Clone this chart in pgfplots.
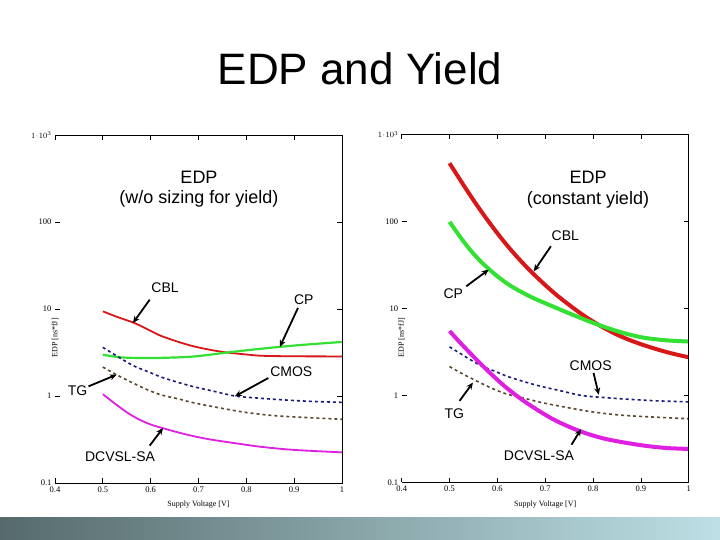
\documentclass[border=0pt]{standalone}
\usepackage{fontspec}
\setmainfont{Liberation Sans}
\newfontfamily\serif{Liberation Serif}
\usepackage{pgfplots}
\usepackage{pgfplotstable}
\pgfplotsset{compat=1.18}
\usetikzlibrary{arrows.meta}

\definecolor{cblred}{HTML}{D81818}
\definecolor{cpgreen}{HTML}{33E033}
\definecolor{cmosblue}{HTML}{1A1A7A}
\definecolor{tgbrown}{HTML}{5A4830}
\definecolor{dcvsl}{HTML}{E020E0}
\definecolor{barL}{HTML}{566A6C}
\definecolor{barR}{HTML}{BCE0E5}

\tikzset{
  thinline/.style={line width=1.8pt},
  thickline/.style={line width=4pt},
  dashline/.style={line width=1.6pt, dash pattern=on 3pt off 3pt},
  lab/.style={font=\fontsize{14}{16}\selectfont},
  arr/.style={-{Stealth[length=7pt,width=6pt]}, line width=1.8pt, black},
}

\pgfplotstableread{
x y
0.500 3.62
0.520 3.10
0.540 2.65
0.566 2.20
0.600 1.85
0.622 1.65
0.660 1.42
0.692 1.27
0.730 1.14
0.776 1.00
0.820 0.95
0.867 0.91
0.930 0.87
1.000 0.845
}\cmos

\pgfplotstableread{
x y
0.500 2.15
0.525 1.80
0.552 1.51
0.590 1.20
0.622 1.03
0.660 0.92
0.692 0.83
0.750 0.72
0.797 0.65
0.850 0.60
0.902 0.574
1.000 0.54
}\tg

\begin{document}
\begin{tikzpicture}
\useasboundingbox (0pt,0pt) rectangle (720pt,540pt);
\fill[white] (0pt,0pt) rectangle (720pt,540pt);
\shade[left color=barL, right color=barR] (0pt,0pt) rectangle (720pt,22pt);

\node[anchor=base, font=\fontsize{44}{48}\selectfont] at (360pt,455pt) {EDP and Yield};

\node[anchor=base, font=\fontsize{18}{20}\selectfont] at (199pt,356.7pt) {EDP};
\node[anchor=base, font=\fontsize{18}{20}\selectfont] at (199pt,336.7pt) {(w/o sizing for yield)};
\node[anchor=base, font=\fontsize{18}{20}\selectfont] at (588pt,356.7pt) {EDP};
\node[anchor=base, font=\fontsize{18}{20}\selectfont] at (588pt,335pt) {(constant yield)};

% left panel: without sizing for yield
\begin{axis}[
  at={(55pt,57pt)}, anchor=south west,
  scale only axis, width=287pt, height=348pt,
  xmin=0.4, xmax=1, ymode=log, ymin=0.1, ymax=1000,
  xtick={0.4,0.5,0.6,0.7,0.8,0.9,1},
  xticklabels={0.4,0.5,0.6,0.7,0.8,0.9,1},
  ytick={0.1,1,10,100,1000},
  yticklabels={0.1,1,10,100,$1\!\cdot\!10^{3}$},
  yminorticks=false,
  tick align=inside,
  major tick length=5pt,
  tick style={black, line width=0.7pt},
  axis line style={draw=none},
  ticklabel style={font=\serif\fontsize{8.5}{9}\selectfont},
  xlabel={Supply Voltage [V]}, ylabel={EDP [ns*fJ]},
  label style={font=\serif\fontsize{8}{9}\selectfont},
  xlabel style={at={(rel axis cs:0.5,0)}, yshift=-22pt, anchor=center},
  ylabel style={at={(rel axis cs:0,0.5)}, xshift=-29pt, anchor=center},
  clip=false,
]
\addplot[cblred, thinline, smooth, no marks] coordinates {
(0.500,9.4) (0.530,8.1) (0.566,6.9) (0.600,5.6) (0.622,4.9) (0.660,4.15)
(0.692,3.7) (0.730,3.35) (0.762,3.15) (0.800,3.0) (0.832,2.9) (0.900,2.86) (1.000,2.85)};
\addplot[cpgreen, line width=2.2pt, smooth, no marks] coordinates {
(0.500,2.98) (0.538,2.78) (0.587,2.73) (0.640,2.76) (0.692,2.85) (0.762,3.17)
(0.800,3.35) (0.867,3.66) (0.930,3.92) (1.000,4.18)};
\addplot[cmosblue, dashline, smooth, no marks] table {\cmos};
\addplot[tgbrown, dashline, smooth, no marks] table {\tg};
\addplot[dcvsl, thinline, smooth, no marks] coordinates {
(0.500,1.05) (0.525,0.82) (0.552,0.64) (0.575,0.54) (0.601,0.468) (0.630,0.42)
(0.657,0.382) (0.690,0.345) (0.727,0.315) (0.780,0.285) (0.832,0.26) (0.900,0.24) (1.000,0.225)};
\draw[line width=0.8pt] (rel axis cs:0,1) -- (rel axis cs:1,1) -- (rel axis cs:1,0) -- (rel axis cs:0,0);
\node[lab] at (axis cs:0.63,17.4) {CBL};
\draw[arr] (axis cs:0.598,12.8) -- (axis cs:0.563,6.9);
\node[lab] at (axis cs:0.92,12.8) {CP};
\draw[arr] (axis cs:0.908,10.3) -- (axis cs:0.870,3.66);
\node[lab] at (axis cs:0.894,1.90) {CMOS};
\draw[arr] (axis cs:0.846,1.61) -- (axis cs:0.776,0.99);
\node[lab] at (axis cs:0.447,1.16) {TG};
\draw[arr] (axis cs:0.470,1.29) -- (axis cs:0.529,1.76);
\node[lab] at (axis cs:0.536,0.203) {DCVSL-SA};
\draw[arr] (axis cs:0.598,0.269) -- (axis cs:0.626,0.429);
\end{axis}

% right panel: constant yield
\begin{axis}[
  at={(401.7pt,57.5pt)}, anchor=south west,
  scale only axis, width=287pt, height=348pt,
  xmin=0.4, xmax=1, ymode=log, ymin=0.1, ymax=1000,
  xtick={0.4,0.5,0.6,0.7,0.8,0.9,1},
  xticklabels={0.4,0.5,0.6,0.7,0.8,0.9,1},
  ytick={0.1,1,10,100,1000},
  yticklabels={0.1,1,10,100,$1\!\cdot\!10^{3}$},
  yminorticks=false,
  tick align=inside,
  major tick length=5pt,
  tick style={black, line width=0.7pt},
  axis line style={draw=none},
  ticklabel style={font=\serif\fontsize{8.5}{9}\selectfont},
  xlabel={Supply Voltage [V]}, ylabel={EDP [ns*fJ]},
  label style={font=\serif\fontsize{8}{9}\selectfont},
  xlabel style={at={(rel axis cs:0.5,0)}, yshift=-22pt, anchor=center},
  ylabel style={at={(rel axis cs:0,0.5)}, xshift=-29pt, anchor=center},
  clip=false,
]
\addplot[cblred, thickline, smooth, no marks] coordinates {
(0.500,468) (0.525,285) (0.550,176) (0.575,112) (0.600,73.3) (0.625,49.5) (0.650,34.7)
(0.675,25.1) (0.700,18.6) (0.725,14.1) (0.750,11.0) (0.775,8.71) (0.800,7.08) (0.825,5.89)
(0.850,5.01) (0.875,4.37) (0.900,3.89) (0.925,3.51) (0.950,3.20) (0.975,2.95) (1.000,2.75)};
\addplot[cpgreen, thickline, smooth, no marks] coordinates {
(0.500,99.1) (0.520,69.2) (0.535,53.7) (0.550,42.7) (0.567,33.9) (0.584,27.9) (0.600,23.4)
(0.625,18.6) (0.650,15.5) (0.675,13.2) (0.700,11.5) (0.750,8.81) (0.800,6.84) (0.850,5.50)
(0.900,4.68) (0.950,4.32) (1.000,4.17)};
\addplot[cmosblue, dashline, smooth, no marks] table {\cmos};
\addplot[tgbrown, dashline, smooth, no marks] table {\tg};
\addplot[dcvsl, thickline, smooth, no marks] coordinates {
(0.500,5.5) (0.525,3.9) (0.549,2.84) (0.584,1.83) (0.618,1.24) (0.660,0.83)
(0.716,0.535) (0.772,0.39) (0.827,0.316) (0.897,0.27) (0.950,0.25) (1.000,0.243)};
\draw[line width=0.8pt] (rel axis cs:0,1) -- (rel axis cs:1,1) -- (rel axis cs:1,0) -- (rel axis cs:0,0);
\node[lab] at (axis cs:0.742,68) {CBL};
\draw[arr] (axis cs:0.712,52) -- (axis cs:0.676,26.7);
\node[lab] at (axis cs:0.508,14.8) {CP};
\draw[arr] (axis cs:0.535,18) -- (axis cs:0.582,28);
\node[lab] at (axis cs:0.795,2.2) {CMOS};
\draw[arr] (axis cs:0.801,1.82) -- (axis cs:0.812,1.02);
\node[lab] at (axis cs:0.510,0.622) {TG};
\draw[arr] (axis cs:0.521,0.867) -- (axis cs:0.549,1.41);
\node[lab] at (axis cs:0.687,0.201) {DCVSL-SA};
\draw[arr] (axis cs:0.755,0.272) -- (axis cs:0.775,0.411);
\end{axis}
\end{tikzpicture}
\end{document}
